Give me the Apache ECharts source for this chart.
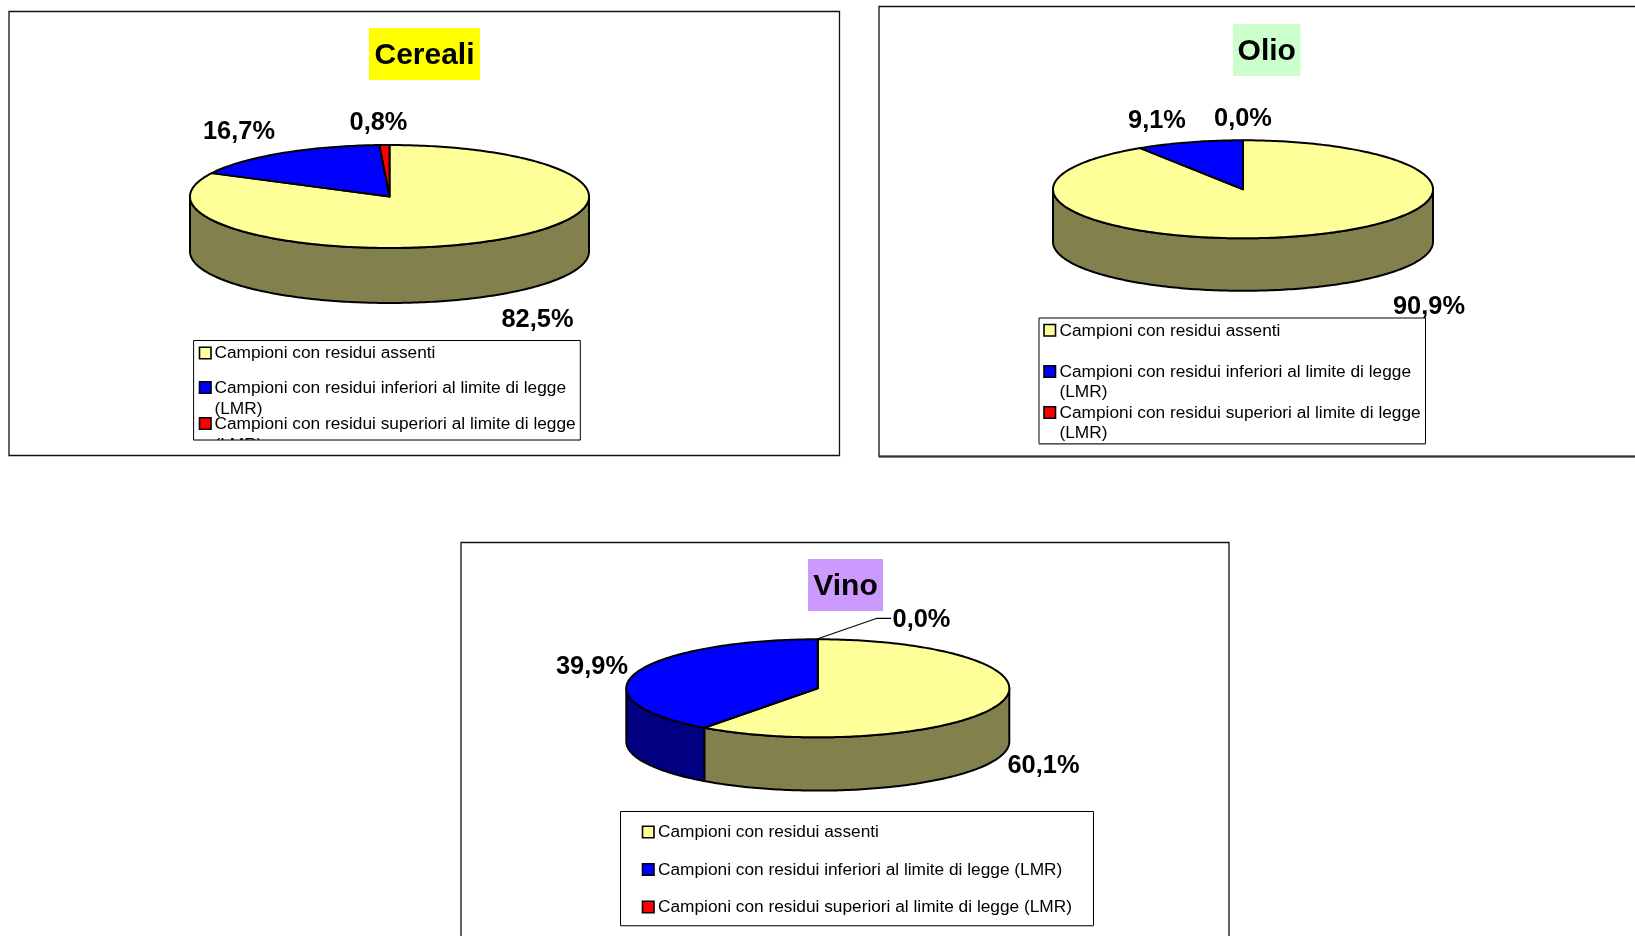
<!DOCTYPE html>
<html>
<head>
<meta charset="utf-8">
<style>html,body{margin:0;padding:0;background:#fff}#c{width:1635px;height:936px}</style>
<script src="https://cdn.jsdelivr.net/npm/echarts@6/dist/echarts.min.js"></script>
</head>
<body>
<div id="c"></div>
<script>
const categories = [
  'Campioni con residui assenti',
  'Campioni con residui inferiori al limite di legge (LMR)',
  'Campioni con residui superiori al limite di legge (LMR)'
];
const titles = ['Cereali', 'Olio', 'Vino'];
const cerealiValues = [82.5, 16.7, 0.8];
const olioValues = [90.9, 9.1, 0.0];
const vinoValues = [60.1, 39.9, 0.0];

const topColors = ['#FFFF99', '#0000FF', '#FF0000'];
const sideColors = ['#82814E', '#000080', '#800000'];
const FONT = '"Liberation Sans", Arial, sans-serif';

const layouts = [
  { values: cerealiValues, titleBg: '#FFFF00', frame: [9, 11.5, 830.5, 444], titleBox: [369, 28, 111, 52],
    cx: 389.5, cy: 196.5, rx: 199.5, ry: 51.5, depth: 55,
    labelPos: [[537.5, 320], [239, 131.7], [378.5, 122.7]],
    box: [193.6, 340.5, 386.7, 99.5], iconX: 199.5, textX: 214.5, rows: [353.7, 388.3, 424.3], wrap: 20.5, clipBottom: true },
  { values: olioValues, titleBg: '#CCFFCC', frame: [879, 6.5, 800, 450], titleBox: [1233, 24, 67.5, 52],
    cx: 1243, cy: 189.3, rx: 190, ry: 49, depth: 52.5,
    labelPos: [[1429, 307], [1157, 120.7], [1243, 118.7]],
    box: [1039, 318, 386.5, 125.7], iconX: 1044, textX: 1059.5, rows: [331, 372.2, 413.2], wrap: 20.3, thickBottom: true },
  { values: vinoValues, titleBg: '#CC99FF', frame: [461, 542.5, 768, 420], titleBox: [808, 559, 75, 52],
    cx: 817.8, cy: 688.3, rx: 191.5, ry: 49, depth: 53.3,
    labelPos: [[1043.5, 766], [592, 666.7], [921.5, 620]],
    leader: [[817.8, 638.7], [877, 618.3], [891, 618.3]],
    box: [620.5, 811.5, 473, 114], iconX: 642.5, textX: 658, rows: [832.7, 870.3, 907.7], wrap: 0 }
];

const LEGEND_PX = 17.3;
const LABEL_PX = 25.4;
const TITLE_PX = 30;

function ell(l, deg, dy) {
  const a = deg * Math.PI / 180;
  return [l.cx + l.rx * Math.sin(a), l.cy - l.ry * Math.cos(a) + (dy || 0)];
}
function arc(l, from, to, dy) {
  const pts = [];
  const n = Math.max(2, Math.ceil(Math.abs(to - from)));
  for (let i = 0; i <= n; i++) pts.push(ell(l, from + (to - from) * i / n, dy));
  return pts;
}

function makeRender(l) {
  return function (params, api) {
    const idx = params.dataIndex;
    const v = api.value(0);
    let before = 0;
    for (let i = 0; i < idx; i++) before += l.values[i];
    const total = l.values.reduce((a, b) => a + b, 0);
    const from = before / total * 360, to = (before + v) / total * 360;
    const children = [];
    const strokeStyle = { stroke: '#000', lineWidth: 2, lineJoin: 'round' };
    if (v > 0) {
      const wFrom = Math.max(from, 90), wTo = Math.min(to, 270);
      if (wTo > wFrom) {
        const pts = arc(l, wFrom, wTo, 0).concat(arc(l, wTo, wFrom, l.depth));
        children.push({ type: 'polygon', z2: 1, shape: { points: pts },
          style: Object.assign({ fill: sideColors[idx] }, strokeStyle) });
      }
      const top = [[l.cx, l.cy]].concat(arc(l, from, to, 0));
      children.push({ type: 'polygon', z2: 2, shape: { points: top },
        style: Object.assign({ fill: topColors[idx] }, strokeStyle) });
    }
    const p = l.labelPos[idx];
    children.push({ type: 'text', z2: 5, style: {
      x: p[0], y: p[1], text: v.toFixed(1).replace('.', ',') + '%',
      fill: '#000', font: 'bold ' + LABEL_PX + 'px ' + FONT, align: 'center', verticalAlign: 'middle' } });
    return { type: 'group', children: children };
  };
}

const graphics = [];
layouts.forEach(function (l, ci) {
  const f = l.frame, t = l.titleBox, b = l.box;
  graphics.push({ type: 'rect', z: 0, silent: true, shape: { x: f[0], y: f[1], width: f[2], height: f[3] },
    style: { fill: '#fff', stroke: '#111', lineWidth: 1.3 } });
  if (l.thickBottom) graphics.push({ type: 'line', z: 0, silent: true,
    shape: { x1: f[0], y1: f[1] + f[3], x2: 1635, y2: f[1] + f[3] }, style: { stroke: '#333', lineWidth: 2 } });
  graphics.push({ type: 'rect', z: 0, silent: true, shape: { x: t[0], y: t[1], width: t[2], height: t[3] },
    style: { fill: l.titleBg } });
  graphics.push({ type: 'text', z: 0, silent: true, style: { x: t[0] + t[2] / 2, y: t[1] + t[3] / 2 + 2, text: titles[ci],
    fill: '#000', font: 'bold ' + TITLE_PX + 'px ' + FONT, align: 'center', verticalAlign: 'middle' } });
  categories.forEach(function (name, i) {
    const y = l.rows[i];
    const hasWrap = l.wrap && name.indexOf(' (LMR)') > 0;
    graphics.push({ type: 'rect', z: 0, silent: true, shape: { x: l.iconX, y: y - 6.5, width: 11.5, height: 11.5 },
      style: { fill: topColors[i], stroke: '#000', lineWidth: 1.6 } });
    const lines = hasWrap ? [name.replace(' (LMR)', ''), '(LMR)'] : [name];
    lines.forEach(function (txt, k) {
      graphics.push({ type: 'text', z: 0, silent: true, style: { x: l.textX, y: y + k * l.wrap, text: txt,
        fill: '#000', font: LEGEND_PX + 'px ' + FONT, align: 'left', verticalAlign: 'middle' } });
    });
  });
  if (l.clipBottom) graphics.push({ type: 'rect', z: 0, silent: true,
    shape: { x: b[0] + 1, y: b[1] + b[3], width: b[2] - 2, height: 14 }, style: { fill: '#fff' } });
  graphics.push({ type: 'rect', z: 0, silent: true, shape: { x: b[0], y: b[1], width: b[2], height: b[3] },
    style: { fill: 'none', stroke: '#000', lineWidth: 1 } });
  graphics.push({ type: 'line', z: 0, silent: true,
    shape: { x1: b[0], y1: b[1] + b[3] + 0.5, x2: b[0] + b[2], y2: b[1] + b[3] + 0.5 },
    style: { stroke: '#777', lineWidth: 1.2 } });
  if (l.leader) graphics.push({ type: 'polyline', z: 0, silent: true, shape: { points: l.leader },
    style: { stroke: '#000', lineWidth: 1.2, fill: 'none' } });
});

const chart = echarts.init(document.getElementById('c'), null, { width: 1635, height: 936, renderer: 'canvas' });
chart.setOption({
  backgroundColor: '#fff',
  animation: false,
  tooltip: { show: false },
  graphic: { elements: graphics },
  series: layouts.map(function (l, ci) {
    return {
      type: 'custom',
      name: titles[ci],
      coordinateSystem: 'none',
      silent: true,
      z: 5,
      clip: false,
      data: l.values.map(function (v, i) { return { name: categories[i], value: [v] }; }),
      encode: { value: 0 },
      renderItem: makeRender(l)
    };
  })
});
</script>
</body>
</html>
